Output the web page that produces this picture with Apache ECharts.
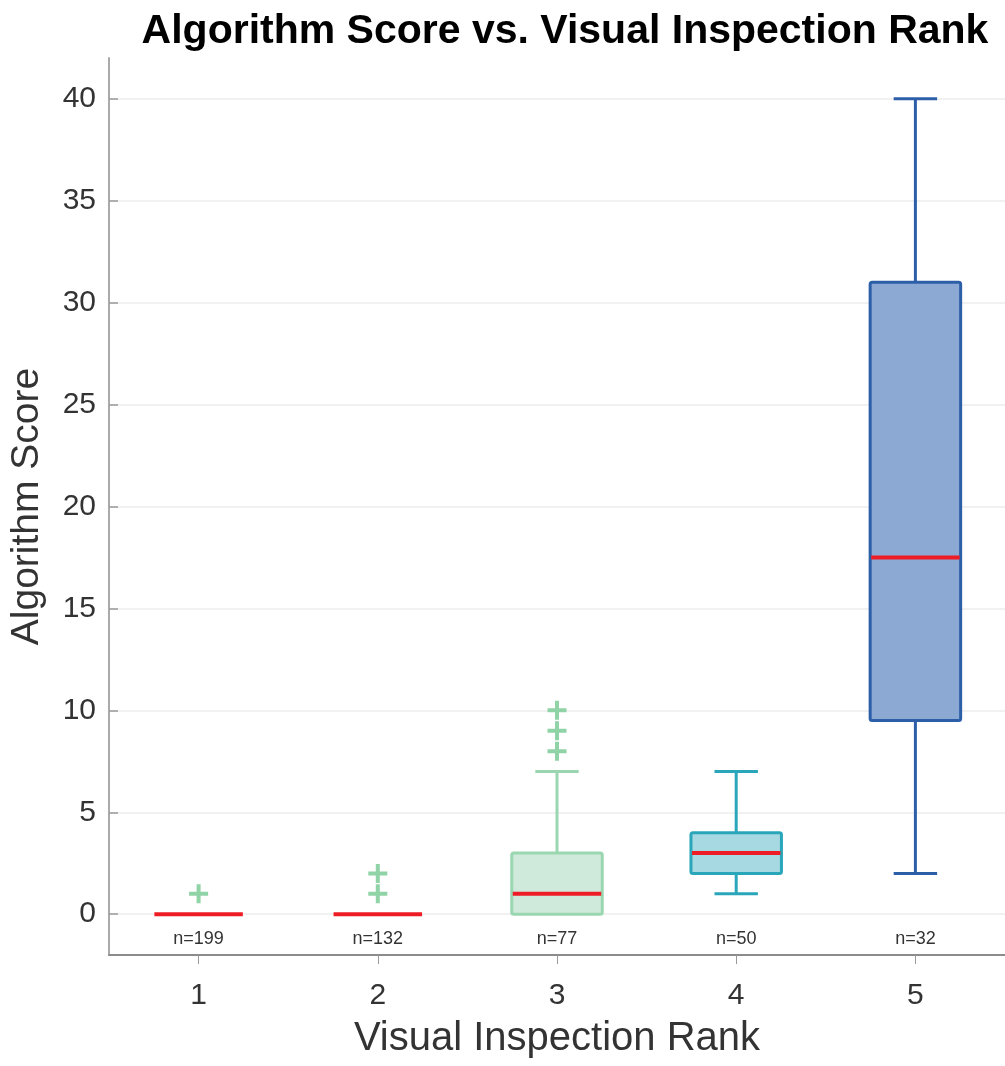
<!DOCTYPE html>
<html>
<head>
<meta charset="utf-8">
<script src="https://cdn.jsdelivr.net/npm/echarts@6/dist/echarts.min.js"></script>
<style>html,body{margin:0;padding:0;background:#fff}#c{width:1005px;height:1066px}</style>
</head>
<body>
<div id="c"></div>
<script>
const categories = ['1', '2', '3', '4', '5'];
const whiskerLow = [0, 0, 0, 1, 2];
const q1 = [0, 0, 0, 2, 9.5];
const median = [0, 0, 1, 3, 17.5];
const q3 = [0, 0, 3, 4, 31];
const whiskerHigh = [0, 0, 7, 7, 40];
const counts = [199, 132, 77, 50, 32];
const outlierCat = [0, 1, 1, 2, 2, 2];
const outlierVal = [1, 1, 2, 8, 9, 10];
const yTicks = [0, 5, 10, 15, 20, 25, 30, 35, 40];

const boxFill = ['#cfeadb', '#cfeadb', '#cfeadb', '#a6d9e2', '#8ca9d4'];
const boxEdge = ['#9ad7b0', '#9ad7b0', '#9ad7b0', '#2aa6bb', '#2c5fa8'];
const FONT = 'Liberation Sans, Arial, sans-serif';

const boxData = categories.map((c, i) => [i, whiskerLow[i], q1[i], median[i], q3[i], whiskerHigh[i], counts[i]]);
const outlierData = outlierCat.map((c, i) => [c, outlierVal[i]]);

function renderBox(params, api) {
  const i = api.value(0);
  const lo = api.coord([i, api.value(1)]);
  const b1 = api.coord([i, api.value(2)]);
  const md = api.coord([i, api.value(3)]);
  const b3 = api.coord([i, api.value(4)]);
  const hi = api.coord([i, api.value(5)]);
  const base = api.coord([i, 0]);
  const n = api.value(6);
  const bw = api.size([1, 0])[0] * 0.505;
  const cw = bw * 0.48;
  const x = lo[0];
  const idx = params.dataIndex;
  const edge = boxEdge[idx], fill = boxFill[idx];
  const ls = {stroke: edge, lineWidth: 3, lineCap: 'butt'};
  const children = [];
  if (api.value(5) > api.value(4)) {
    children.push({type: 'line', shape: {x1: x, y1: hi[1], x2: x, y2: b3[1]}, style: ls});
    children.push({type: 'line', shape: {x1: x - cw / 2, y1: hi[1], x2: x + cw / 2, y2: hi[1]}, style: ls});
  }
  if (api.value(2) > api.value(1)) {
    children.push({type: 'line', shape: {x1: x, y1: lo[1], x2: x, y2: b1[1]}, style: ls});
    children.push({type: 'line', shape: {x1: x - cw / 2, y1: lo[1], x2: x + cw / 2, y2: lo[1]}, style: ls});
  }
  if (api.value(4) > api.value(2)) {
    children.push({type: 'rect', shape: {x: x - bw / 2, y: b3[1], width: bw, height: b1[1] - b3[1], r: 2},
      style: {fill: fill, stroke: edge, lineWidth: 3}});
  }
  children.push({type: 'line', shape: {x1: x - bw / 2 + 1, y1: md[1], x2: x + bw / 2 - 1, y2: md[1]},
    style: {stroke: '#ee1c24', lineWidth: 4}});
  children.push({type: 'text', x: x, y: base[1] + 25,
    style: {text: 'n=' + n, fontSize: 18, fontFamily: FONT, fill: '#333', align: 'center', verticalAlign: 'middle'}});
  return {type: 'group', children: children};
}

const chart = echarts.init(document.getElementById('c'), null, {renderer: 'canvas'});
chart.setOption({
  backgroundColor: '#ffffff',
  animation: false,
  title: {
    text: 'Algorithm Score vs. Visual Inspection Rank',
    left: 560, top: 6, textAlign: 'center',
    textStyle: {fontFamily: FONT, fontSize: 41, fontWeight: 'bold', color: '#000'}
  },
  grid: {left: 109, top: 58, width: 900, bottom: 111, containLabel: false},
  xAxis: {
    type: 'category',
    data: categories,
    boundaryGap: true,
    name: 'Visual Inspection Rank',
    nameLocation: 'middle',
    nameGap: 64,
    nameTextStyle: {fontFamily: FONT, fontSize: 40, color: '#333'},
    axisLine: {show: true, onZero: false, lineStyle: {color: '#8c8c8c', width: 2}},
    axisTick: {show: true, alignWithLabel: true, inside: false, length: 9, lineStyle: {color: '#999', width: 1}},
    axisLabel: {fontFamily: FONT, fontSize: 30, color: '#333', margin: 26},
    splitLine: {show: false}
  },
  yAxis: {
    type: 'value',
    min: -2, max: 42,
    name: 'Algorithm Score',
    nameLocation: 'middle',
    nameGap: 62,
    nameRotate: 90,
    nameTextStyle: {fontFamily: FONT, fontSize: 39, color: '#333'},
    axisLine: {show: true, lineStyle: {color: '#aaaaaa', width: 2}},
    axisTick: {show: true, inside: true, length: 9, customValues: yTicks, lineStyle: {color: '#999', width: 1.5}},
    axisLabel: {fontFamily: FONT, fontSize: 30, color: '#333', margin: 13, customValues: yTicks},
    splitLine: {show: true, lineStyle: {color: '#ececec', width: 1.5}}
  },
  series: [
    {
      type: 'custom',
      renderItem: renderBox,
      data: boxData,
      encode: {x: 0, y: [1, 2, 3, 4, 5]},
      clip: false,
      z: 2
    },
    {
      type: 'scatter',
      data: outlierData,
      symbol: 'path://M0,7.5H7.5V0H11.5V7.5H19V11.5H11.5V19H7.5V11.5H0Z',
      symbolSize: 19,
      itemStyle: {color: '#8fd3a6', opacity: 1},
      z: 3
    }
  ]
});
</script>
</body>
</html>
